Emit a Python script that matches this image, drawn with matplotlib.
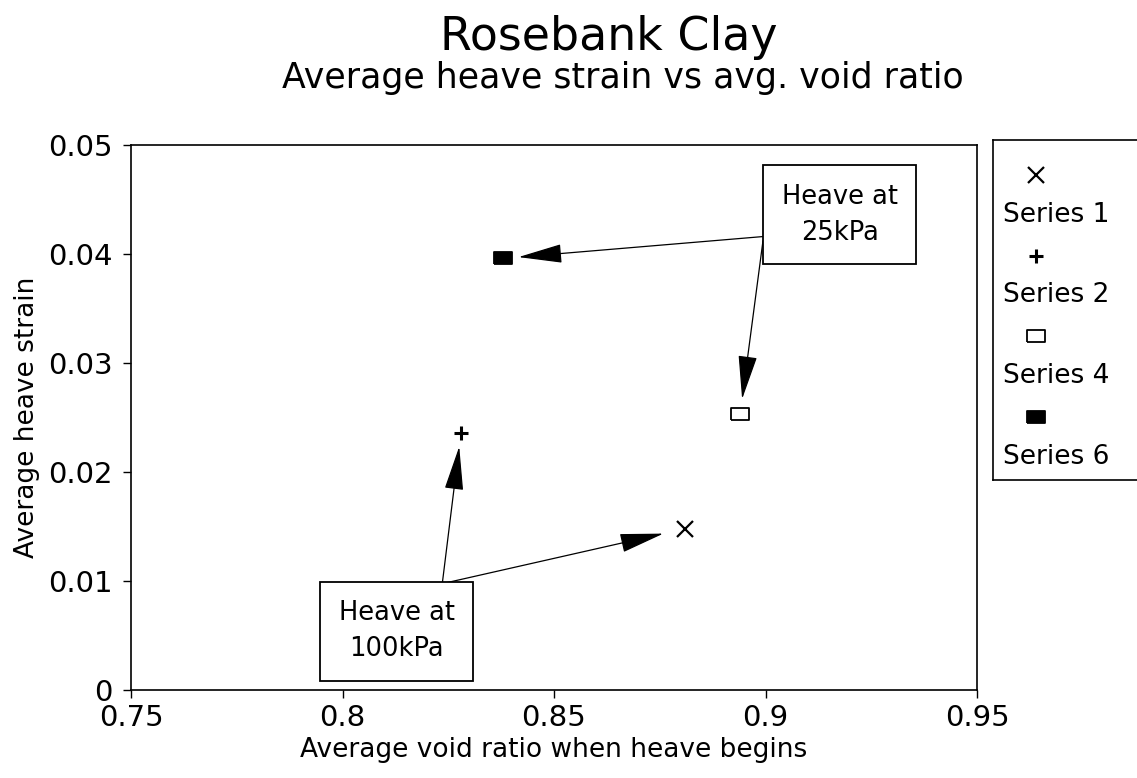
import matplotlib
matplotlib.use("Agg")
import matplotlib.pyplot as plt
import numpy as np

plt.rcParams['font.family'] = ['DejaVu Sans']

series_names = ["Series 1", "Series 2", "Series 4", "Series 6"]
void_ratio = [0.881, 0.828, 0.894, 0.838]
heave_strain = [0.0148, 0.0236, 0.0253, 0.0396]

x_ticks = [0.75, 0.8, 0.85, 0.9, 0.95]
x_tick_labels = ["0.75", "0.8", "0.85", "0.9", "0.95"]
y_ticks = [0, 0.01, 0.02, 0.03, 0.04, 0.05]
y_tick_labels = ["0", "0.01", "0.02", "0.03", "0.04", "0.05"]

rect = [(-1.5, -1), (1.5, -1), (1.5, 1), (-1.5, 1), (-1.5, -1)]
styles = [
    dict(marker='x', ms=11, mew=1.6, color='black', mfc='none'),
    dict(marker='+', ms=10, mew=2.2, color='black', mfc='none'),
    dict(marker=rect, ms=13, mew=1.3, color='black', mfc='white'),
    dict(marker=rect, ms=13, mew=1.3, color='black', mfc='black'),
]

W, H = 1137, 778
fig = plt.figure(figsize=(W / 100, H / 100), dpi=100)

def px(l, t, r, b):
    return [l / W, 1 - b / H, (r - l) / W, (b - t) / H]

ax = fig.add_axes(px(131, 145, 977, 690))
for xv, yv, st in zip(void_ratio, heave_strain, styles):
    ax.plot([xv], [yv], linestyle='none', **st)

ax.set_xlim(0.75, 0.95)
ax.set_ylim(0, 0.05)
ax.set_xticks(x_ticks)
ax.set_xticklabels(x_tick_labels)
ax.set_yticks(y_ticks)
ax.set_yticklabels(y_tick_labels)
ax.tick_params(direction='out', length=6, width=1.0, labelsize=21,
               top=False, right=False)
ax.tick_params(axis='y', pad=7)
ax.tick_params(axis='x', pad=4)
for s in ax.spines.values():
    s.set_linewidth(1.2)
ax.set_xlabel("Average void ratio when heave begins", fontsize=19, labelpad=4)
ax.set_ylabel("Average heave strain", fontsize=19, labelpad=6)

fig.text(0.535, 1 - 37 / H, "Rosebank Clay", ha='center', va='center', fontsize=33)
fig.text(0.548, 1 - 78 / H, "Average heave strain vs avg. void ratio",
         ha='center', va='center', fontsize=25)

# annotation boxes
boxprops = dict(boxstyle='square,pad=0.72', fc='white', ec='black', lw=1.3)
ax.text(0.9176, 0.04358, "Heave at\n25kPa", ha='center', va='center',
        fontsize=18.5, bbox=boxprops, linespacing=1.5, zorder=5)
ax.text(0.8128, 0.00537, "Heave at\n100kPa", ha='center', va='center',
        fontsize=18.5, bbox=boxprops, linespacing=1.5, zorder=5)

arrow = dict(arrowstyle='-|>,head_length=2.8,head_width=0.6', color='black',
             lw=0.9, mutation_scale=10, shrinkA=0)
starts = [(0.8236, 0.0098), (0.8241, 0.0098), (0.8994, 0.0412), (0.8994, 0.0416)]
ends_idx = [1, 0, 2, 3]
shrinks = [10, 16, 11, 11]
for (sx, sy), i, sh in zip(starts, ends_idx, shrinks):
    a = dict(arrow)
    a['shrinkB'] = sh
    ax.annotate("", xy=(void_ratio[i], heave_strain[i]), xytext=(sx, sy),
                arrowprops=a, zorder=4)

# legend box
lax = fig.add_axes(px(993, 140, 1160, 480))
lax.set_xlim(0, 1)
lax.set_ylim(0, 1)
lax.set_xticks([])
lax.set_yticks([])
for s in lax.spines.values():
    s.set_linewidth(1.2)
for k, (name, st) in enumerate(zip(series_names, styles)):
    ym = 1 - (35 + k * 80.5) / 340
    yt = 1 - (75 + k * 80.5) / 340
    lax.plot([0.26], [ym], linestyle='none', **st)
    lax.text(0.06, yt, name, ha='left', va='center', fontsize=19)

fig.savefig("out.png", dpi=100)
